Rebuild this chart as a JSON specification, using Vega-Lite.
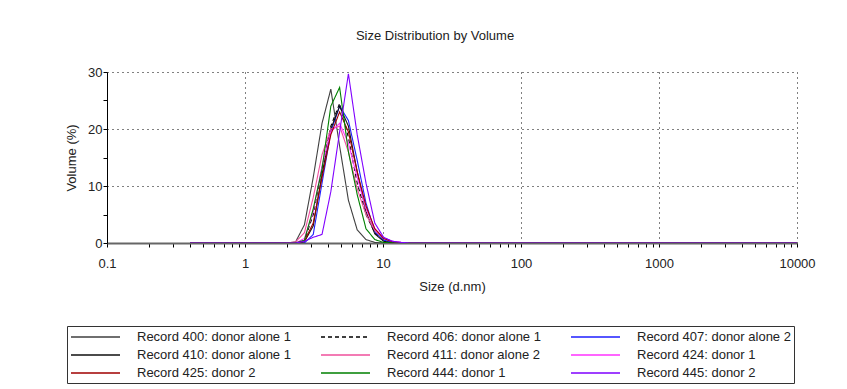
{
  "$schema": "https://vega.github.io/schema/vega-lite/v6.json",
  "width": 690,
  "height": 171,
  "autosize": "none",
  "padding": {"left": 107, "top": 72, "right": 50, "bottom": 146},
  "background": "white",
  "title": {"text": "Size Distribution by Volume", "font": "Liberation Sans", "fontSize": 13, "fontWeight": "normal", "color": "#222222", "offset": 23, "dx": -17, "anchor": "middle"},
  "config": {
    "view": {"stroke": null},
    "axis": {"labelFont": "Liberation Sans", "titleFont": "Liberation Sans", "labelFontSize": 13, "titleFontSize": 13, "titleFontWeight": "normal", "labelColor": "#222222", "titleColor": "#222222", "tickColor": "#000000", "gridColor": "#000000", "gridDash": [1, 4], "gridWidth": 1},
    "legend": {"labelFont": "Liberation Sans", "labelFontSize": 13, "labelColor": "#222222"}
  },
  "data": {"values": [
    {"s": "Record 400: donor alone 1", "d": 0.4, "v": 0},
    {"s": "Record 400: donor alone 1", "d": 2.01, "v": 0},
    {"s": "Record 400: donor alone 1", "d": 2.328, "v": 0.2},
    {"s": "Record 400: donor alone 1", "d": 2.696, "v": 3.2},
    {"s": "Record 400: donor alone 1", "d": 3.122, "v": 11.5},
    {"s": "Record 400: donor alone 1", "d": 3.615, "v": 21.0},
    {"s": "Record 400: donor alone 1", "d": 4.187, "v": 27.0},
    {"s": "Record 400: donor alone 1", "d": 4.849, "v": 17.0},
    {"s": "Record 400: donor alone 1", "d": 5.615, "v": 7.5},
    {"s": "Record 400: donor alone 1", "d": 6.503, "v": 2.3},
    {"s": "Record 400: donor alone 1", "d": 7.531, "v": 0.6},
    {"s": "Record 400: donor alone 1", "d": 8.721, "v": 0.1},
    {"s": "Record 400: donor alone 1", "d": 10.1, "v": 0},
    {"s": "Record 400: donor alone 1", "d": 10000, "v": 0},

    {"s": "Record 406: donor alone 1", "d": 0.4, "v": 0},
    {"s": "Record 406: donor alone 1", "d": 2.328, "v": 0},
    {"s": "Record 406: donor alone 1", "d": 2.696, "v": 0.4},
    {"s": "Record 406: donor alone 1", "d": 3.122, "v": 5.0},
    {"s": "Record 406: donor alone 1", "d": 3.615, "v": 13.0},
    {"s": "Record 406: donor alone 1", "d": 4.187, "v": 20.5},
    {"s": "Record 406: donor alone 1", "d": 4.849, "v": 24.5},
    {"s": "Record 406: donor alone 1", "d": 5.615, "v": 18.5},
    {"s": "Record 406: donor alone 1", "d": 6.503, "v": 10.5},
    {"s": "Record 406: donor alone 1", "d": 7.531, "v": 5.0},
    {"s": "Record 406: donor alone 1", "d": 8.721, "v": 1.8},
    {"s": "Record 406: donor alone 1", "d": 10.1, "v": 0.5},
    {"s": "Record 406: donor alone 1", "d": 11.7, "v": 0.1},
    {"s": "Record 406: donor alone 1", "d": 13.54, "v": 0},
    {"s": "Record 406: donor alone 1", "d": 10000, "v": 0},

    {"s": "Record 407: donor alone 2", "d": 0.4, "v": 0},
    {"s": "Record 407: donor alone 2", "d": 2.696, "v": 0},
    {"s": "Record 407: donor alone 2", "d": 3.122, "v": 1.5},
    {"s": "Record 407: donor alone 2", "d": 3.615, "v": 10.5},
    {"s": "Record 407: donor alone 2", "d": 4.187, "v": 19.5},
    {"s": "Record 407: donor alone 2", "d": 4.849, "v": 24.0},
    {"s": "Record 407: donor alone 2", "d": 5.615, "v": 21.5},
    {"s": "Record 407: donor alone 2", "d": 6.503, "v": 14.5},
    {"s": "Record 407: donor alone 2", "d": 7.531, "v": 7.0},
    {"s": "Record 407: donor alone 2", "d": 8.721, "v": 2.0},
    {"s": "Record 407: donor alone 2", "d": 10.1, "v": 0.5},
    {"s": "Record 407: donor alone 2", "d": 11.7, "v": 0.1},
    {"s": "Record 407: donor alone 2", "d": 13.54, "v": 0},
    {"s": "Record 407: donor alone 2", "d": 10000, "v": 0},

    {"s": "Record 410: donor alone 1", "d": 0.4, "v": 0},
    {"s": "Record 410: donor alone 1", "d": 2.328, "v": 0},
    {"s": "Record 410: donor alone 1", "d": 2.696, "v": 0.2},
    {"s": "Record 410: donor alone 1", "d": 3.122, "v": 3.0},
    {"s": "Record 410: donor alone 1", "d": 3.615, "v": 12.0},
    {"s": "Record 410: donor alone 1", "d": 4.187, "v": 20.0},
    {"s": "Record 410: donor alone 1", "d": 4.849, "v": 24.0},
    {"s": "Record 410: donor alone 1", "d": 5.615, "v": 20.5},
    {"s": "Record 410: donor alone 1", "d": 6.503, "v": 12.5},
    {"s": "Record 410: donor alone 1", "d": 7.531, "v": 5.5},
    {"s": "Record 410: donor alone 1", "d": 8.721, "v": 1.6},
    {"s": "Record 410: donor alone 1", "d": 10.1, "v": 0.3},
    {"s": "Record 410: donor alone 1", "d": 11.7, "v": 0},
    {"s": "Record 410: donor alone 1", "d": 10000, "v": 0},

    {"s": "Record 411: donor alone 2", "d": 0.4, "v": 0},
    {"s": "Record 411: donor alone 2", "d": 2.01, "v": 0},
    {"s": "Record 411: donor alone 2", "d": 2.328, "v": 0.2},
    {"s": "Record 411: donor alone 2", "d": 2.696, "v": 1.8},
    {"s": "Record 411: donor alone 2", "d": 3.122, "v": 8.0},
    {"s": "Record 411: donor alone 2", "d": 3.615, "v": 15.5},
    {"s": "Record 411: donor alone 2", "d": 4.187, "v": 20.0},
    {"s": "Record 411: donor alone 2", "d": 4.849, "v": 20.5},
    {"s": "Record 411: donor alone 2", "d": 5.615, "v": 16.0},
    {"s": "Record 411: donor alone 2", "d": 6.503, "v": 9.5},
    {"s": "Record 411: donor alone 2", "d": 7.531, "v": 5.0},
    {"s": "Record 411: donor alone 2", "d": 8.721, "v": 2.2},
    {"s": "Record 411: donor alone 2", "d": 10.1, "v": 0.8},
    {"s": "Record 411: donor alone 2", "d": 11.7, "v": 0.3},
    {"s": "Record 411: donor alone 2", "d": 13.54, "v": 0.1},
    {"s": "Record 411: donor alone 2", "d": 15.69, "v": 0},
    {"s": "Record 411: donor alone 2", "d": 10000, "v": 0},

    {"s": "Record 424: donor 1", "d": 0.4, "v": 0},
    {"s": "Record 424: donor 1", "d": 2.328, "v": 0},
    {"s": "Record 424: donor 1", "d": 2.696, "v": 0.8},
    {"s": "Record 424: donor 1", "d": 3.122, "v": 5.5},
    {"s": "Record 424: donor 1", "d": 3.615, "v": 13.5},
    {"s": "Record 424: donor 1", "d": 4.187, "v": 19.5},
    {"s": "Record 424: donor 1", "d": 4.849, "v": 21.0},
    {"s": "Record 424: donor 1", "d": 5.615, "v": 17.5},
    {"s": "Record 424: donor 1", "d": 6.503, "v": 11.5},
    {"s": "Record 424: donor 1", "d": 7.531, "v": 6.0},
    {"s": "Record 424: donor 1", "d": 8.721, "v": 2.5},
    {"s": "Record 424: donor 1", "d": 10.1, "v": 0.9},
    {"s": "Record 424: donor 1", "d": 11.7, "v": 0.3},
    {"s": "Record 424: donor 1", "d": 13.54, "v": 0.1},
    {"s": "Record 424: donor 1", "d": 15.69, "v": 0},
    {"s": "Record 424: donor 1", "d": 10000, "v": 0},

    {"s": "Record 425: donor 2", "d": 0.4, "v": 0},
    {"s": "Record 425: donor 2", "d": 2.328, "v": 0},
    {"s": "Record 425: donor 2", "d": 2.696, "v": 0.3},
    {"s": "Record 425: donor 2", "d": 3.122, "v": 3.5},
    {"s": "Record 425: donor 2", "d": 3.615, "v": 11.5},
    {"s": "Record 425: donor 2", "d": 4.187, "v": 19.0},
    {"s": "Record 425: donor 2", "d": 4.849, "v": 23.0},
    {"s": "Record 425: donor 2", "d": 5.615, "v": 19.5},
    {"s": "Record 425: donor 2", "d": 6.503, "v": 12.5},
    {"s": "Record 425: donor 2", "d": 7.531, "v": 6.5},
    {"s": "Record 425: donor 2", "d": 8.721, "v": 2.5},
    {"s": "Record 425: donor 2", "d": 10.1, "v": 0.8},
    {"s": "Record 425: donor 2", "d": 11.7, "v": 0.2},
    {"s": "Record 425: donor 2", "d": 13.54, "v": 0},
    {"s": "Record 425: donor 2", "d": 10000, "v": 0},

    {"s": "Record 444: donor 1", "d": 0.4, "v": 0},
    {"s": "Record 444: donor 1", "d": 2.328, "v": 0},
    {"s": "Record 444: donor 1", "d": 2.696, "v": 0.5},
    {"s": "Record 444: donor 1", "d": 3.122, "v": 6.0},
    {"s": "Record 444: donor 1", "d": 3.615, "v": 13.0},
    {"s": "Record 444: donor 1", "d": 4.187, "v": 24.0},
    {"s": "Record 444: donor 1", "d": 4.849, "v": 27.3},
    {"s": "Record 444: donor 1", "d": 5.615, "v": 16.0},
    {"s": "Record 444: donor 1", "d": 6.503, "v": 8.5},
    {"s": "Record 444: donor 1", "d": 7.531, "v": 2.5},
    {"s": "Record 444: donor 1", "d": 8.721, "v": 0.6},
    {"s": "Record 444: donor 1", "d": 10.1, "v": 0.1},
    {"s": "Record 444: donor 1", "d": 11.7, "v": 0},
    {"s": "Record 444: donor 1", "d": 10000, "v": 0},

    {"s": "Record 445: donor 2", "d": 0.4, "v": 0},
    {"s": "Record 445: donor 2", "d": 2.328, "v": 0},
    {"s": "Record 445: donor 2", "d": 2.696, "v": 0.3},
    {"s": "Record 445: donor 2", "d": 3.122, "v": 1.0},
    {"s": "Record 445: donor 2", "d": 3.615, "v": 1.5},
    {"s": "Record 445: donor 2", "d": 4.187, "v": 9.0},
    {"s": "Record 445: donor 2", "d": 4.849, "v": 19.5},
    {"s": "Record 445: donor 2", "d": 5.615, "v": 29.7},
    {"s": "Record 445: donor 2", "d": 6.503, "v": 19.0},
    {"s": "Record 445: donor 2", "d": 7.531, "v": 10.5},
    {"s": "Record 445: donor 2", "d": 8.721, "v": 3.5},
    {"s": "Record 445: donor 2", "d": 10.1, "v": 1.0},
    {"s": "Record 445: donor 2", "d": 11.7, "v": 0.3},
    {"s": "Record 445: donor 2", "d": 13.54, "v": 0.1},
    {"s": "Record 445: donor 2", "d": 15.69, "v": 0},
    {"s": "Record 445: donor 2", "d": 10000, "v": 0}
  ]},
  "mark": {"type": "line", "strokeWidth": 1.1, "clip": true},
  "encoding": {
    "x": {
      "field": "d", "type": "quantitative",
      "scale": {"type": "log", "domain": [0.1, 10000], "nice": false},
      "axis": {
        "title": "Size (d.nm)",
        "values": [0.1,0.2,0.3,0.4,0.5,0.6,0.7,0.8,0.9,1,2,3,4,5,6,7,8,9,10,20,30,40,50,60,70,80,90,100,200,300,400,500,600,700,800,900,1000,2000,3000,4000,5000,6000,7000,8000,9000,10000],
        "labelExpr": "abs(log(datum.value)/LN10 - round(log(datum.value)/LN10)) < 0.000001 ? format(datum.value, '~g') : ''",
        "labelOverlap": false,
        "labelFlush": false,
        "labelPadding": 10,
        "tickSize": 4,
        "domainColor": "#666666",
        "domainWidth": 2,
        "titlePadding": 10,
        "gridOpacity": {"condition": {"test": "abs(log(datum.value)/LN10 - round(log(datum.value)/LN10)) < 0.000001 && datum.value > 0.5", "value": 1}, "value": 0}
      }
    },
    "y": {
      "field": "v", "type": "quantitative",
      "scale": {"domain": [0, 30], "nice": false},
      "axis": {
        "title": "Volume (%)",
        "values": [0, 5, 10, 15, 20, 25, 30],
        "labelExpr": "datum.value % 10 == 0 ? datum.label : ''",
        "tickSize": 4,
        "labelPadding": 1,
        "domainColor": "#000000",
        "titlePadding": 9,
        "gridOpacity": {"condition": {"test": "datum.value % 10 == 0 && datum.value > 0", "value": 1}, "value": 0}
      }
    },
    "color": {
      "field": "s", "type": "nominal",
      "scale": {
        "domain": ["Record 400: donor alone 1", "Record 406: donor alone 1", "Record 407: donor alone 2", "Record 410: donor alone 1", "Record 411: donor alone 2", "Record 424: donor 1", "Record 425: donor 2", "Record 444: donor 1", "Record 445: donor 2"],
        "range": ["#404040", "#000000", "#1f1fff", "#111111", "#f0509c", "#ff33ff", "#a00000", "#008000", "#8000ff"]
      },
      "legend": {
        "title": null,
        "orient": "none",
        "legendX": -40,
        "legendY": 254,
        "columns": 3,
        "direction": "horizontal",
        "strokeColor": "#333333",
        "padding": 3,
        "columnPadding": 27,
        "rowPadding": 3,
        "symbolType": "M-1,0H6",
        "symbolSize": 196,
        "symbolStrokeWidth": 1.5,
        "labelOffset": 51,
        "labelLimit": 220
      }
    },
    "strokeDash": {
      "field": "s", "type": "nominal",
      "scale": {
        "domain": ["Record 400: donor alone 1", "Record 406: donor alone 1", "Record 407: donor alone 2", "Record 410: donor alone 1", "Record 411: donor alone 2", "Record 424: donor 1", "Record 425: donor 2", "Record 444: donor 1", "Record 445: donor 2"],
        "range": [[1, 0], [4, 3], [1, 0], [1, 0], [1, 0], [1, 0], [1, 0], [1, 0], [1, 0]]
      },
      "legend": null
    }
  }
}
